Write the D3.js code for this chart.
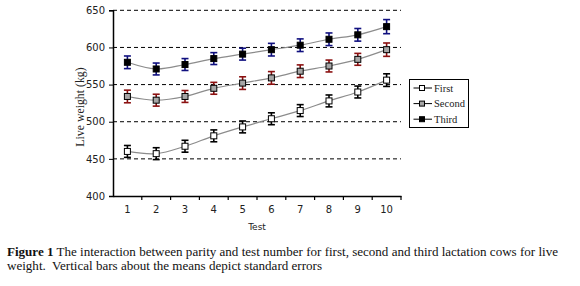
<!DOCTYPE html>
<html lang="en">
<head>
<meta charset="UTF-8">
<title>Live weight by test</title>
<script src="https://d3js.org/d3.v7.min.js"></script>
<style>
    body{ margin:0; background:#fff; }
    svg{ display:block; }
    .tick text{ font-family: "DejaVu Sans", sans-serif; }
</style>
</head>
<body>
<script>

    // data
    const tests = [1,2,3,4,5,6,7,8,9,10]
    const first  = [460, 457, 467, 481, 493, 504, 515, 528, 540, 556]
    const second = [534, 529, 534, 545, 552, 559, 568, 575, 584, 597]
    const third  = [580, 571, 577, 585, 591, 597, 603, 611, 617, 628]
    const firstSE  = [8, 8, 8, 8, 8, 8, 8, 8, 8, 8.5]
    const secondSE = [8.5, 8, 8, 8, 8.5, 8.5, 8.5, 8, 8, 9]
    const thirdSE  = [8.5, 8, 8, 8, 8, 8.5, 8.5, 8.5, 8.5, 9.5]
    const yTicks = [400, 450, 500, 550, 600, 650]
    const gridVals = [450, 500, 550, 600, 650]
    const seriesNames = ["First", "Second", "Third"]
    const caption1 = "The interaction between parity and test number for first, second and third lactation cows for live"
    const caption2 = "weight.\u00a0 Vertical bars about the means depict standard errors"

    const width = 580, height = 286

    const series = [
        {name: seriesNames[0], vals: first,  se: firstSE,  fill: "#ffffff", bar: "#000000"},
        {name: seriesNames[1], vals: second, se: secondSE, fill: "#a6a6a6", bar: "#8b1010"},
        {name: seriesNames[2], vals: third,  se: thirdSE,  fill: "#000000", bar: "#10107f"}
    ]

    let svg = d3.select("body").append("svg")
                .attr("width", width).attr("height", height)

    const x = d3.scaleBand().domain(tests).range([113, 401])
    const y = d3.scaleLinear().domain([400, 650]).range([196, 10.3])

    // dashed gridlines
    svg.append("g").selectAll("line")
        .data(gridVals).enter().append("line")
        .attr("x1", x.range()[0]).attr("x2", x.range()[1])
        .attr("y1", d => y(d)).attr("y2", d => y(d))
        .attr("stroke", "#000").attr("stroke-width", 1)
        .attr("stroke-dasharray", "4,3")

    // y axis
    let yAxis = svg.append("g")
        .attr("transform", `translate(${x.range()[0]},0)`)
        .call(d3.axisLeft(y).tickValues(yTicks).tickSize(4).tickPadding(4))
    yAxis.select(".domain").attr("stroke-width", 1.5)
    yAxis.selectAll(".tick text").attr("font-size", 10).attr("fill", "#222")

    // x axis, ticks sit between categories
    let xAxis = svg.append("g")
        .attr("transform", `translate(0,${y(400)})`)
        .call(d3.axisBottom(x).tickSize(0).tickPadding(10))
    xAxis.select(".domain").attr("stroke-width", 1.5)
    xAxis.selectAll(".tick text").attr("font-size", 10).attr("fill", "#222")
    xAxis.selectAll(".between")
        .data(tests).enter().append("line")
        .attr("x1", d => x(d) + x.bandwidth()).attr("x2", d => x(d) + x.bandwidth())
        .attr("y1", 0).attr("y2", 4)
        .attr("stroke", "#000").attr("stroke-width", 1.2)

    svg.append("text")
        .attr("x", (x.range()[0] + x.range()[1]) / 2).attr("y", 230)
        .attr("text-anchor", "middle")
        .attr("font-family", "DejaVu Sans, sans-serif").attr("font-size", 9)
        .attr("fill", "#222")
        .text("Test")

    svg.append("text")
        .attr("transform", "translate(84,107) rotate(-90)")
        .attr("text-anchor", "middle")
        .attr("font-family", "Liberation Serif, serif").attr("font-size", 11.8)
        .attr("fill", "#222")
        .text("Live weight (kg)")

    const cx = d => x(d) + x.bandwidth() / 2
    const line = d3.line().curve(d3.curveCatmullRom.alpha(0.5))

    // lines
    series.forEach(s => {
        svg.append("path")
            .attr("d", line(tests.map((t, i) => [cx(t), y(s.vals[i])])))
            .attr("fill", "none").attr("stroke", "#8c8c8c").attr("stroke-width", 1.2)
    })

    // error bars and markers
    series.forEach(s => {
        let g = svg.append("g")
        let eb = g.selectAll(".eb").data(tests).enter().append("g")
        eb.append("line")
            .attr("x1", cx).attr("x2", cx)
            .attr("y1", (d, i) => y(s.vals[i] + s.se[i])).attr("y2", (d, i) => y(s.vals[i] - s.se[i]))
        eb.append("line")
            .attr("x1", d => cx(d) - 3.5).attr("x2", d => cx(d) + 3.5)
            .attr("y1", (d, i) => y(s.vals[i] + s.se[i])).attr("y2", (d, i) => y(s.vals[i] + s.se[i]))
        eb.append("line")
            .attr("x1", d => cx(d) - 3.5).attr("x2", d => cx(d) + 3.5)
            .attr("y1", (d, i) => y(s.vals[i] - s.se[i])).attr("y2", (d, i) => y(s.vals[i] - s.se[i]))
        eb.selectAll("line").attr("stroke", s.bar).attr("stroke-width", 1.6)

        g.selectAll("rect").data(tests).enter().append("rect")
            .attr("x", d => cx(d) - 3).attr("y", (d, i) => y(s.vals[i]) - 3)
            .attr("width", 6).attr("height", 6)
            .attr("fill", s.fill).attr("stroke", "#000").attr("stroke-width", 1)
    })

    // legend
    let legend = svg.append("g")
    legend.append("rect")
        .attr("x", 409.5).attr("y", 79.5).attr("width", 59).attr("height", 48)
        .attr("fill", "#fff").attr("stroke", "#000").attr("stroke-width", 1)
    let items = legend.selectAll(".item").data(series).enter().append("g")
        .attr("transform", (d, i) => `translate(0,${88 + i * 15.6})`)
    items.append("line")
        .attr("x1", 413.5).attr("x2", 432)
        .attr("stroke", "#000").attr("stroke-width", 1)
    items.append("rect")
        .attr("x", 419.5).attr("y", -2.5).attr("width", 5).attr("height", 5)
        .attr("fill", d => d.fill).attr("stroke", "#000").attr("stroke-width", 1)
    items.append("text")
        .attr("x", 434).attr("y", 3.8)
        .attr("font-family", "Liberation Serif, serif").attr("font-size", 10.5)
        .attr("fill", "#222")
        .text(d => d.name)

    // caption
    let cap = svg.append("text")
        .attr("font-family", "Liberation Serif, serif").attr("font-size", 13.05)
        .attr("fill", "#111")
    let t1 = cap.append("tspan").attr("x", 7).attr("y", 256)
    t1.append("tspan").attr("font-weight", "bold").text("Figure 1")
    t1.append("tspan").text(" " + caption1)
    cap.append("tspan").attr("x", 7).attr("y", 270).text(caption2)

</script>
</body>
</html>
